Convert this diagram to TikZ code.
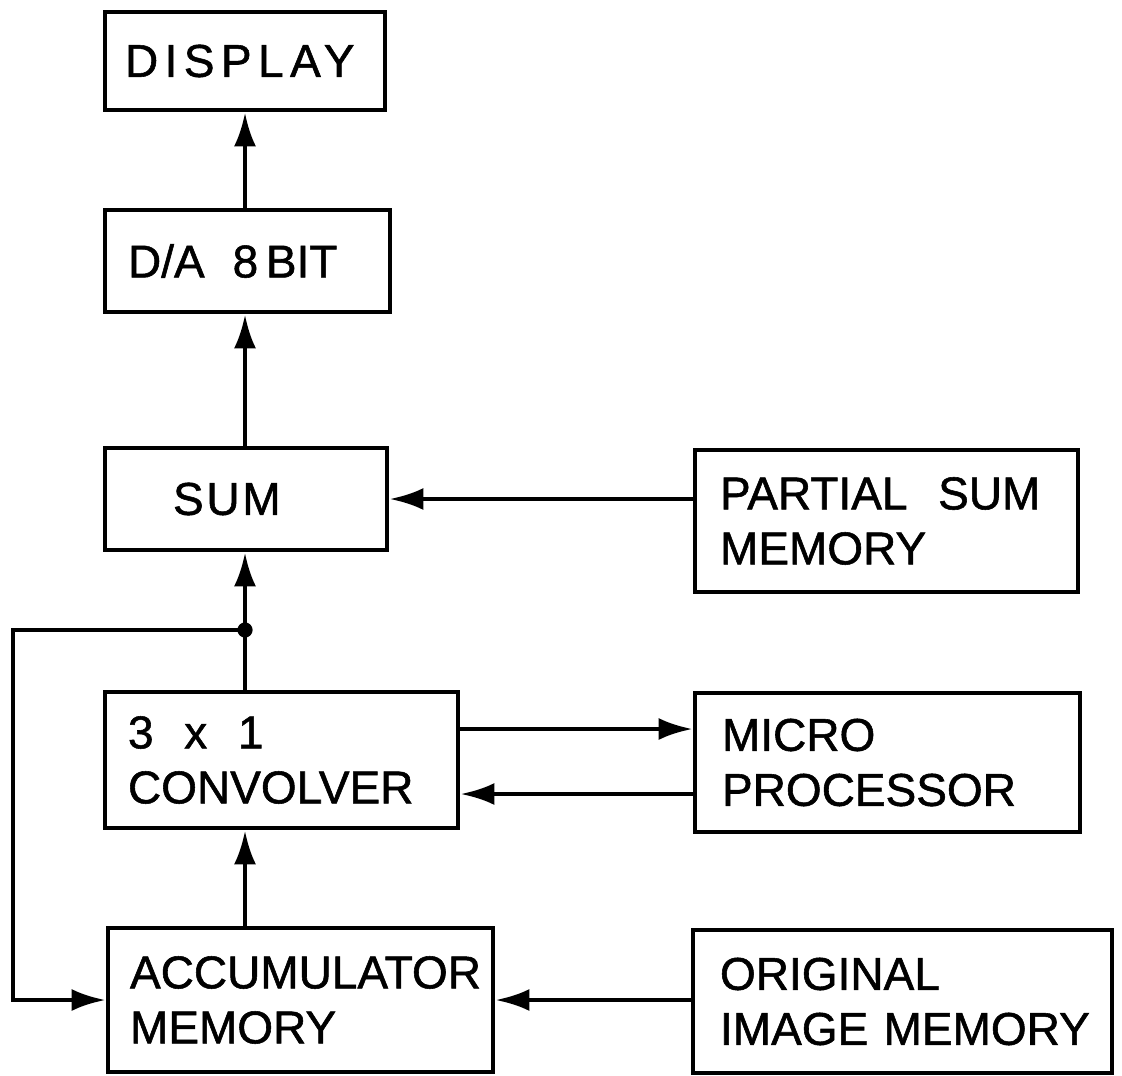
\documentclass[tikz,border=0pt]{standalone}
\usepackage{fontspec}
\setmainfont[FakeBold=1.2]{Liberation Sans}
\usetikzlibrary{arrows.meta}
\begin{document}
\begin{tikzpicture}[x=0.5pt,y=-0.5pt,
  blk/.style={draw, line width=2.4pt, align=left, inner ysep=0pt,
    font=\fontsize{23}{27.5}\selectfont},
  arr/.style={line width=2.3pt, -{Latex[length=17pt,width=11pt]}},
  ln/.style={line width=2.3pt}]
\useasboundingbox[fill=white] (0,0) rectangle (1122,1075);

\node[blk, inner xsep=10pt, text width=120pt, minimum height=49pt] (display) at (245,61)
  {\addfontfeature{LetterSpace=14}DISPLAY};
\node[blk, inner xsep=11.5pt, text width=119.5pt, minimum height=51pt] (da) at (247.5,261)
  {D/A\hspace{14pt}8\,BIT};
\node[blk, inner xsep=34pt, text width=73pt, minimum height=51pt] (sum) at (246,499)
  {\addfontfeature{LetterSpace=6}SUM};
\node[blk, inner xsep=12.5pt, text width=166.5pt, minimum height=71pt] (partial) at (886.5,521)
  {\mbox{PARTIAL\ \ SUM}\\MEMORY};
\node[blk, inner xsep=11.5pt, text width=153.5pt, minimum height=68pt] (conv) at (281.5,760)
  {3\ \ x\ \ 1\\CONVOLVER};
\node[blk, inner xsep=13.5pt, text width=165.5pt, minimum height=69.5pt] (micro) at (887.5,762.5)
  {MICRO\\PROCESSOR};
\node[blk, inner xsep=11pt, text width=170.5pt, minimum height=72pt] (acc) at (300.5,1000)
  {\mbox{ACCUMULATOR}\\MEMORY};
\node[blk, inner xsep=13.5pt, text width=182.5pt, minimum height=71.5pt] (orig) at (902.5,1001.5)
  {ORIGINAL\\\mbox{IMAGE\ MEMORY}};

% vertical chain
\draw[arr] (display.south |- da.north) -- (display.south);
\draw[arr] (display.south |- sum.north) -- (display.south |- da.south);
\draw[arr] (display.south |- conv.north) -- (display.south |- sum.south);
\draw[arr] (display.south |- acc.north) -- (display.south |- conv.south);

% partial sum
\draw[arr] (partial.west |- sum.east) -- (sum.east);

% convolver <-> microprocessor
\draw[arr] (conv.east |- 0,729) -- (micro.west |- 0,729);
\draw[arr] (micro.west |- 0,794) -- (conv.east |- 0,794);

% original image -> accumulator
\draw[arr] (orig.west |- acc.east) -- (acc.east);

% feedback loop
\coordinate (j) at (245,630);
\coordinate (lft) at (13,630);
\fill (j) circle[radius=3.8pt];
\draw[arr] (j) -- (lft) |- (acc.west);
\end{tikzpicture}
\end{document}
